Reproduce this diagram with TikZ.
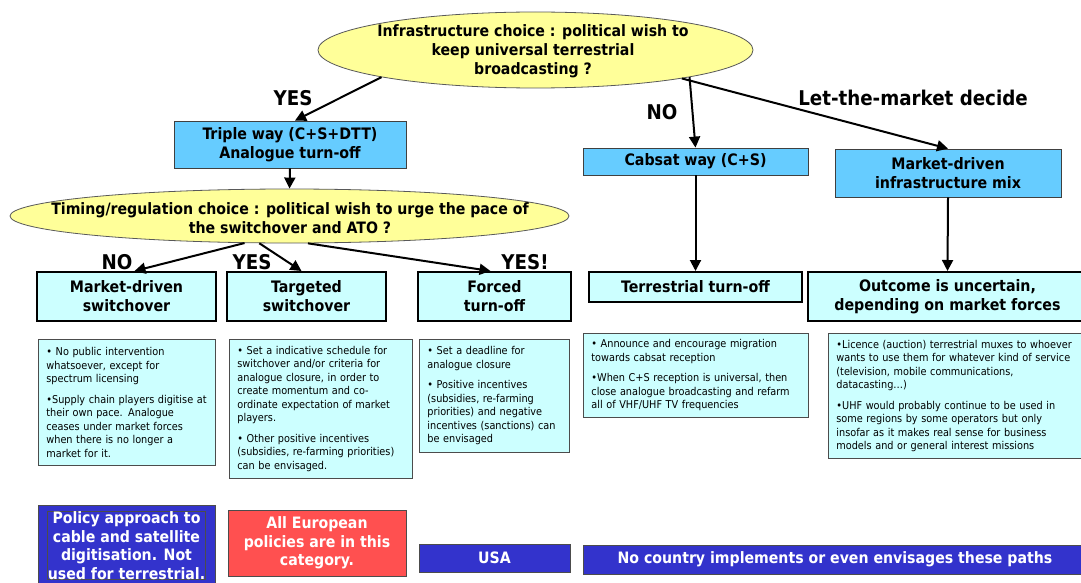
\documentclass[tikz,border=0pt]{standalone}
\usepackage{fontspec}
\setmainfont{DejaVu Sans Condensed}
\usetikzlibrary{shapes.geometric,arrows.meta}
\definecolor{pale}{HTML}{FFFF99}
\definecolor{ice}{HTML}{CCFFFF}
\definecolor{sky}{HTML}{66CCFF}
\definecolor{navy}{HTML}{3333CC}
\definecolor{coral}{HTML}{FF5050}
\begin{document}
\begin{tikzpicture}[x=1pt,y=-1pt,
  question/.style={ellipse, draw=black!65, line width=0.8pt, fill=pale, inner sep=0pt},
  qtext/.style={align=center, inner sep=0pt, font=\fontsize{15.7}{19}\selectfont\bfseries},
  way/.style={draw=black!75, line width=0.8pt, fill=sky, align=center, inner sep=0pt,
    font=\fontsize{15.8}{19}\selectfont\bfseries},
  outcome/.style={draw=black, line width=2pt, fill=ice, align=center, inner sep=0pt,
    font=\fontsize{15.8}{19}\selectfont\bfseries},
  note/.style={draw=black!70, line width=0.8pt, fill=ice, anchor=north west, align=left,
    inner xsep=8pt, inner ysep=0pt, font=\fontsize{10.8}{13.5}\selectfont},
  verdict/.style={draw=black!70, line width=0.8pt, text=white, align=center, inner sep=0pt,
    font=\fontsize{15.7}{18.6}\selectfont\bfseries},
  answer/.style={inner sep=0pt, font=\fontsize{20.3}{24}\selectfont\bfseries},
  arrow/.style={-{Triangle[length=11pt,width=11pt]}, line width=2pt}
]
\path[use as bounding box, fill=white] (0,0) rectangle (1081,583);

% first decision: infrastructure
\node[question, minimum width=435pt, minimum height=76pt] (q1) at (535.5,50) {};
\node[qtext] (q1t) at (533,51) {Infrastructure choice : political wish to\\keep universal terrestrial\\broadcasting ?};

% infrastructure paths
\node[way, minimum width=232pt, minimum height=47pt] (tri) at (290,144.5) {Triple way (C+S+DTT)\\Analogue turn-off};
\node[way, minimum width=225pt, minimum height=27pt] (cab) at (695.5,161.5) {Cabsat way (C+S)};
\node[way, minimum width=226pt, minimum height=48pt] (mix) at (948,173) {Market-driven\\infrastructure mix};

% second decision: timing
\node[question, minimum width=559pt, minimum height=54pt] (q2) at (289.5,216) {};
\node[qtext] (q2t) at (290,218) {Timing/regulation choice : political wish to urge the pace of\\the switchover and ATO ?};

% outcomes
\node[outcome, minimum width=179pt, minimum height=49pt] (mkt) at (126.5,296.5) {Market-driven\\switchover};
\node[outcome, minimum width=159pt, minimum height=49pt] (tgt) at (306.5,296.5) {Targeted\\switchover};
\node[outcome, minimum width=153pt, minimum height=49pt] (frc) at (494.5,296.5) {Forced\\turn-off};
\node[outcome, minimum width=213pt, minimum height=30pt] (ter) at (695.5,287) {Terrestrial turn-off};
\node[outcome, minimum width=279pt, minimum height=49pt] (unc) at (947.5,296.5) {Outcome is uncertain,\\depending on market forces};

% descriptions
\node[note, text width=161pt, minimum height=126pt] (n1) at (38,339)
  {• No public intervention\\whatsoever, except for\\spectrum licensing\\[7pt]•Supply chain players digitise at\\their own pace. Analogue\\ceases under market forces\\when there is no longer a\\market for it.};
\node[note, text width=167pt, minimum height=139pt] (n2) at (229,339)
  {• Set a indicative schedule for\\switchover and/or criteria for\\analogue closure, in order to\\create momentum and co-\\ordinate expectation of market\\players.\\[7pt]• Other positive incentives\\(subsidies, re-farming priorities)\\can be envisaged.};
\node[note, text width=134pt, minimum height=113pt] (n3) at (419,339)
  {• Set a deadline for\\analogue closure\\[7pt]• Positive incentives\\(subsidies, re-farming\\priorities) and negative\\incentives (sanctions) can\\be envisaged};
\node[note, text width=209pt, minimum height=84pt] (n4) at (583,333)
  {• Announce and encourage migration\\towards cabsat reception\\[7pt]•When C+S reception is universal, then\\close analogue broadcasting and refarm\\all of VHF/UHF TV frequencies};
\node[note, text width=244pt, minimum height=125pt] (n5) at (828,333)
  {•Licence (auction) terrestrial muxes to whoever\\wants to use them for whatever kind of service\\(television, mobile communications,\\datacasting…)\\[7pt]•UHF would probably continue to be used in\\some regions by some operators but only\\insofar as it makes real sense for business\\models and or general interest missions};

% where countries stand
\node[verdict, fill=navy, minimum width=177pt, minimum height=85pt] (pol) at (126.5,547.5) {};
\node[verdict] (polt) at (126.5,545.5) {Policy approach to\\cable and satellite\\digitisation. Not\\used for terrestrial.};
\node[verdict, fill=coral, minimum width=178pt, minimum height=66pt] (eur) at (317,543) {All European\\policies are in this\\category.};
\node[verdict, fill=navy, minimum width=151pt, minimum height=28pt] (usa) at (494.5,558) {USA};
\node[verdict, fill=navy, minimum width=504pt, minimum height=29pt] (none) at (835,559.5) {No country implements or even envisages these paths};

% answers
\node[answer] (yes1) at (293,98) {YES};
\node[answer] (no1) at (662,112) {NO};
\node[answer] (lmd) at (913,98) {Let-the-market decide};
\node[answer] (no2) at (117,262) {NO};
\node[answer] (yes2) at (252,262) {YES};
\node[answer] (yes3) at (525,262) {YES!};

% connectors
\draw[arrow] (q1.190) -- ([xshift=5pt]tri.north);
\draw[arrow] (q1.350) -- (cab.north);
\draw[arrow] (q1.349) -- (mix.north);
\draw[arrow] (tri.south) -- (q2.north);
\draw[arrow] (q2.211) -- ([xshift=8pt]mkt.north);
\draw[arrow] (q2.222) -- ([xshift=-5pt]tgt.north);
\draw[arrow] (q2.304) -- ([xshift=-4pt]frc.north);
\draw[arrow] (cab.south) -- (ter.north);
\draw[arrow] (mix.south) -- (unc.north);
\end{tikzpicture}
\end{document}
